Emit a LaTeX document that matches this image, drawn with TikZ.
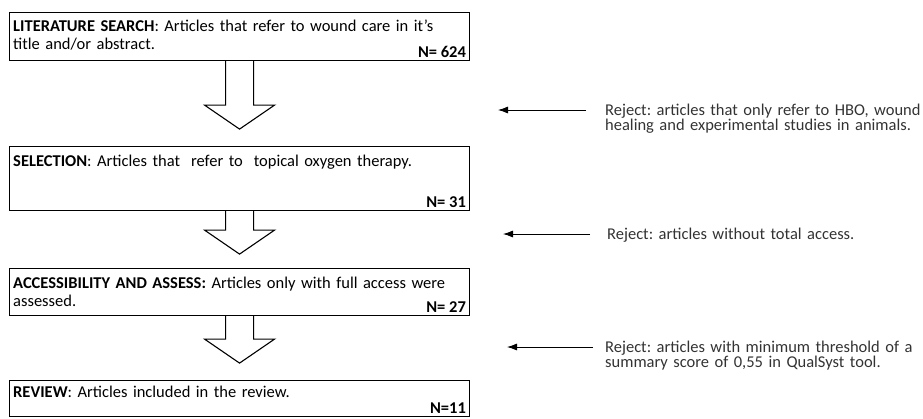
\documentclass[tikz,border=0pt]{standalone}
\usepackage{fontspec}
\setmainfont{Carlito}
\usetikzlibrary{arrows.meta}
\frenchspacing

\tikzset{
  stage/.style={draw,line width=1.1pt,rectangle,minimum width=460pt,inner sep=0,anchor=north west},
  stagetext/.style={anchor=base west,text width=447pt,inner sep=0,align=left,font=\fontsize{16.5}{18.5}\selectfont},
  count/.style={anchor=base east,inner sep=0,font=\fontsize{16.5}{18.5}\selectfont\bfseries},
  reject/.style={anchor=base west,text width=320pt,inner sep=0,align=left,text=black!80,font=\fontsize{16.5}{15}\selectfont},
  fat/.style={draw,line width=1.1pt,fill=white,line join=miter},
  rejarrow/.style={line width=0.8pt,-{Latex[length=10pt,width=7pt]}}
}

% wide hollow arrow below a stage: node, stem length
\newcommand{\flowarrow}[2]{%
  \draw[fat] ([xshift=-14pt]#1.south) -- ++(0,#2) -- ++(-21,0) -- ++(35,24)
    -- ++(35,-24) -- ++(-21,0) -- ++(0,-#2);
}

\begin{document}
\begin{tikzpicture}[x=1pt,y=-1pt]
  \useasboundingbox (0,0) rectangle (923,418);

  % stages
  \node[stage,minimum height=48pt] (lit) at (9,12) {};
  \node[stagetext] (littext) at ([shift={(4,19)}]lit.north west)
    {\textbf{LITERATURE SEARCH}: Articles that refer to wound care in it’s title and/or abstract.};
  \node[count] (litn) at ([shift={(-4,-4)}]lit.south east) {N= 624};

  \node[stage,minimum height=64pt] (sel) at (9,146) {};
  \node[stagetext] (seltext) at ([shift={(4,20)}]sel.north west)
    {\textbf{SELECTION}: Articles that\ \ refer to\ \ topical oxygen therapy.};
  \node[count] (seln) at ([shift={(-4,-4)}]sel.south east) {N= 31};

  \node[stage,minimum height=47pt] (acc) at (9,268) {};
  \node[stagetext] (acctext) at ([shift={(4,20)}]acc.north west)
    {\textbf{ACCESSIBILITY AND ASSESS:} Articles only with full access were assessed.};
  \node[count] (accn) at ([shift={(-4,-4)}]acc.south east) {N= 27};

  \node[stage,minimum height=36pt] (rev) at (9,380) {};
  \node[stagetext] (revtext) at ([shift={(4,17)}]rev.north west)
    {\textbf{REVIEW}: Articles included in the review.};
  \node[count] (revn) at ([shift={(-4,-4)}]rev.south east) {N=11};

  % hollow arrows
  \flowarrow{lit}{44}
  \flowarrow{sel}{19}
  \flowarrow{acc}{23}

  % rejections
  \node[reject] (rej1) at (605,115) {Reject: articles that only refer to HBO, wound\\healing and experimental studies in animals.};
  \node[reject] (rej2) at (607,239) {Reject: articles without total access.};
  \node[reject] (rej3) at (605,352) {Reject: articles with minimum threshold of a\\summary score of 0,55 in QualSyst tool.};

  \coordinate (tip1) at (498,110);
  \coordinate (tip2) at (503,234);
  \coordinate (tip3) at (507,347);
  \draw[rejarrow] ([shift={(-19,-5)}]rej1.base west) -- (tip1);
  \draw[rejarrow] ([shift={(-17,-5)}]rej2.base west) -- (tip2);
  \draw[rejarrow] ([shift={(-12,-5)}]rej3.base west) -- (tip3);
\end{tikzpicture}
\end{document}
